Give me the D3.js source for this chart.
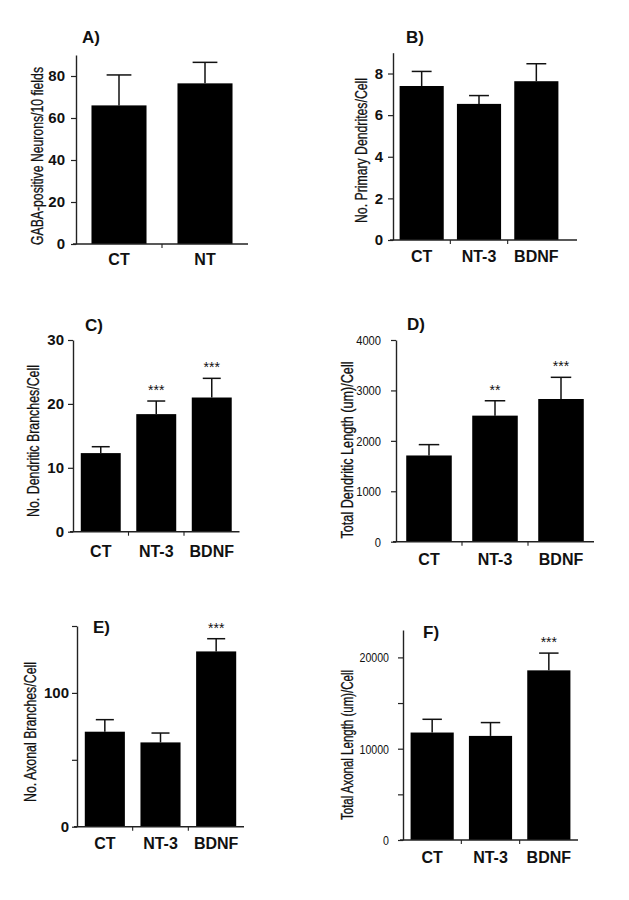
<!DOCTYPE html>
<html>
<head>
<meta charset="utf-8">
<script src="https://cdn.jsdelivr.net/npm/d3@7"></script>
<style>
  html, body { margin: 0; padding: 0; background: #fff; }
  svg { display: block; }
</style>
</head>
<body>
<svg id="chart" width="629" height="900"></svg>
<script>
// ---------------- DATA ----------------
const catsA = ["CT", "NT"];
const catsB = ["CT", "NT-3", "BDNF"];

const meanA = [66, 76.5];
const semA  = [14.5, 10];
const sigA  = ["", ""];
const ticksA = [0, 20, 40, 60, 80];
const labelsA = ["0", "20", "40", "60", "80"];

const meanB = [7.4, 6.54, 7.63];
const semB  = [0.7, 0.4, 0.84];
const sigB  = ["", "", ""];
const ticksB = [0, 2, 4, 6, 8];
const labelsB = ["0", "2", "4", "6", "8"];

const meanC = [12.3, 18.4, 21.0];
const semC  = [1.0, 2.05, 3.0];
const sigC  = ["", "***", "***"];
const ticksC = [0, 10, 20, 30];
const labelsC = ["0", "10", "20", "30"];

const meanD = [1710, 2500, 2830];
const semD  = [215, 295, 430];
const sigD  = ["", "**", "***"];
const ticksD = [0, 1000, 2000, 3000, 4000];
const labelsD = ["0", "1000", "2000", "3000", "4000"];

const meanE = [71, 63, 131];
const semE  = [9, 7, 9.5];
const sigE  = ["", "", "***"];
const ticksE = [0, 50, 100, 150];
const labelsE = ["0", "", "100", ""];

const meanF = [11770, 11400, 18580];
const semF  = [1450, 1460, 1890];
const sigF  = ["", "", "***"];
const ticksF = [0, 5000, 10000, 15000, 20000];
const labelsF = ["0", "", "10000", "", "20000"];

const titles = ["A)", "B)", "C)", "D)", "E)", "F)"];
const yTitles = [
  "GABA-positive Neurons/10 fields",
  "No. Primary Dendrites/Cell",
  "No. Dendritic Branches/Cell",
  "Total Dendritic Length (um)/Cell",
  "No. Axonal Branches/Cell",
  "Total Axonal Length (um)/Cell"
];

// ---------------- LAYOUT ----------------
const svg = d3.select("#chart");
const BOLD = "'Liberation Sans', Arial, sans-serif";
const NARROW = "'Liberation Sans Narrow', 'Arial Narrow', 'Liberation Sans', sans-serif";

const panels = [
  { cats: catsA, mean: meanA, sem: semA, sig: sigA, ticks: ticksA, labels: labelsA, ymax: 90,
    x0: 76, x1: 248, pad: 0.36, yb: 244, yt: 55, tickPad: 6, tickFont: BOLD, tickWeight: "bold", tickSize: 15,
    title: { x: 82, y: 43 }, ytitle: { x: 37, cy: 156, len: 178 }, xlab: 265 },
  { cats: catsB, mean: meanB, sem: semB, sig: sigB, ticks: ticksB, labels: labelsB, ymax: 9,
    x0: 393, x1: 565, pad: 0.23, yb: 240, yt: 52.7, tickPad: 5, tickFont: BOLD, tickWeight: "bold", tickSize: 15,
    title: { x: 406, y: 43 }, ytitle: { x: 361, cy: 150.5, len: 145 }, xlab: 262, axisEnd: 577 },
  { cats: catsB, mean: meanC, sem: semC, sig: sigC, ticks: ticksC, labels: labelsC, ymax: 30,
    x0: 73, x1: 239.5, pad: 0.28, yb: 531.7, yt: 340, tickPad: 4, tickFont: BOLD, tickWeight: "bold", tickSize: 15,
    title: { x: 85, y: 331 }, ytitle: { x: 33, cy: 441, len: 152 }, xlab: 557 },
  { cats: catsB, mean: meanD, sem: semD, sig: sigD, ticks: ticksD, labels: labelsD, ymax: 4000,
    x0: 396, x1: 594, pad: 0.31, yb: 541.7, yt: 340, tickPad: 10, tickFont: NARROW, tickWeight: "normal", tickSize: 13.5,
    digitW: 6.2,
    title: { x: 407, y: 330 }, ytitle: { x: 347, cy: 450, len: 177 }, xlab: 565 },
  { cats: catsB, mean: meanE, sem: semE, sig: sigE, ticks: ticksE, labels: labelsE, ymax: 150,
    x0: 77, x1: 244, pad: 0.28, yb: 826.7, yt: 626, tickPad: 3, tickFont: BOLD, tickWeight: "bold", tickSize: 15,
    title: { x: 93, y: 633 }, ytitle: { x: 30, cy: 732, len: 140 }, xlab: 849 },
  { cats: catsB, mean: meanF, sem: semF, sig: sigF, ticks: ticksF, labels: labelsF, ymax: 23000,
    x0: 403, x1: 578, pad: 0.26, yb: 840, yt: 630, tickPad: 9, tickFont: NARROW, tickWeight: "normal", tickSize: 13.5,
    digitW: 5.9,
    title: { x: 423, y: 638 }, ytitle: { x: 347, cy: 745, len: 150 }, xlab: 863 }
];

panels.forEach((p, idx) => {
  const g = svg.append("g");
  const x = d3.scaleBand().domain(p.cats).range([p.x0, p.x1])
    .paddingInner(p.pad).paddingOuter(p.pad / 2);
  const y = d3.scaleLinear().domain([0, p.ymax]).range([p.yb, p.yt]);
  const step = x.step();
  const bw = x.bandwidth();
  const capW = bw * 0.45;

  // error bars (upper half only)
  p.cats.forEach((c, i) => {
    const cx = x(c) + bw / 2;
    const top = y(p.mean[i] + p.sem[i]);
    g.append("line").attr("x1", cx).attr("x2", cx)
      .attr("y1", y(p.mean[i])).attr("y2", top)
      .attr("stroke", "#111").attr("stroke-width", 1.5);
    g.append("line").attr("x1", cx - capW / 2).attr("x2", cx + capW / 2)
      .attr("y1", top).attr("y2", top)
      .attr("stroke", "#111").attr("stroke-width", 1.5);
    if (p.sig[i]) {
      g.append("text").attr("x", cx).attr("y", top - 6)
        .attr("text-anchor", "middle")
        .style("font-family", BOLD).style("font-size", "14px").style("fill", "#111")
        .text(p.sig[i]);
    }
  });

  // bars
  g.selectAll("rect.bar").data(p.cats).enter().append("rect")
    .attr("class", "bar")
    .attr("x", d => x(d))
    .attr("width", bw)
    .attr("y", (d, i) => y(p.mean[i]))
    .attr("height", (d, i) => y(0) - y(p.mean[i]))
    .attr("fill", "#000");

  // y axis
  const yAxis = d3.axisLeft(y).tickValues(p.ticks).tickSize(5).tickSizeOuter(0)
    .tickPadding(p.tickPad)
    .tickFormat((d, i) => p.labels[i]);
  const ya = g.append("g").attr("transform", `translate(${p.x0},0)`).call(yAxis);
  ya.select(".domain").attr("stroke", "#222").attr("stroke-width", 1.4);
  ya.selectAll(".tick line").attr("stroke", "#222").attr("stroke-width", 1.2);
  const tt = ya.selectAll(".tick text")
    .style("font-family", p.tickFont).style("font-weight", p.tickWeight)
    .style("font-size", p.tickSize + "px").attr("fill", "#111");
  if (p.digitW) {
    tt.each(function () {
      const s = d3.select(this);
      const n = s.text().length;
      if (n > 0) s.attr("textLength", n * p.digitW).attr("lengthAdjust", "spacingAndGlyphs");
    });
  }

  // x axis baseline with boundary ticks
  const xEnd = p.axisEnd || p.x1;
  g.append("line").attr("x1", p.x0 - 3).attr("x2", xEnd)
    .attr("y1", y(0)).attr("y2", y(0))
    .attr("stroke", "#222").attr("stroke-width", 1.4);
  for (let i = 1; i < p.cats.length; i++) {
    const tx = p.x0 + i * step;
    g.append("line").attr("x1", tx).attr("x2", tx)
      .attr("y1", y(0)).attr("y2", y(0) + 4)
      .attr("stroke", "#222").attr("stroke-width", 1.1);
  }

  // category labels
  p.cats.forEach(c => {
    g.append("text").attr("x", x(c) + bw / 2).attr("y", p.xlab)
      .attr("text-anchor", "middle")
      .style("font-family", BOLD).style("font-weight", "bold").style("font-size", "16px")
      .attr("fill", "#111").text(c);
  });

  // panel title
  g.append("text").attr("x", p.title.x).attr("y", p.title.y)
    .style("font-family", BOLD).style("font-weight", "bold").style("font-size", "17px")
    .attr("fill", "#111").text(titles[idx]);

  // y title
  g.append("text")
    .attr("transform", `translate(${p.ytitle.x},${p.ytitle.cy}) rotate(-90)`)
    .attr("text-anchor", "middle").attr("dy", "0.35em")
    .attr("textLength", p.ytitle.len).attr("lengthAdjust", "spacingAndGlyphs")
    .style("font-family", NARROW).style("font-size", "16px")
    .style("stroke", "#111").style("stroke-width", 0.3)
    .attr("fill", "#111").text(yTitles[idx]);
});
</script>
</body>
</html>
